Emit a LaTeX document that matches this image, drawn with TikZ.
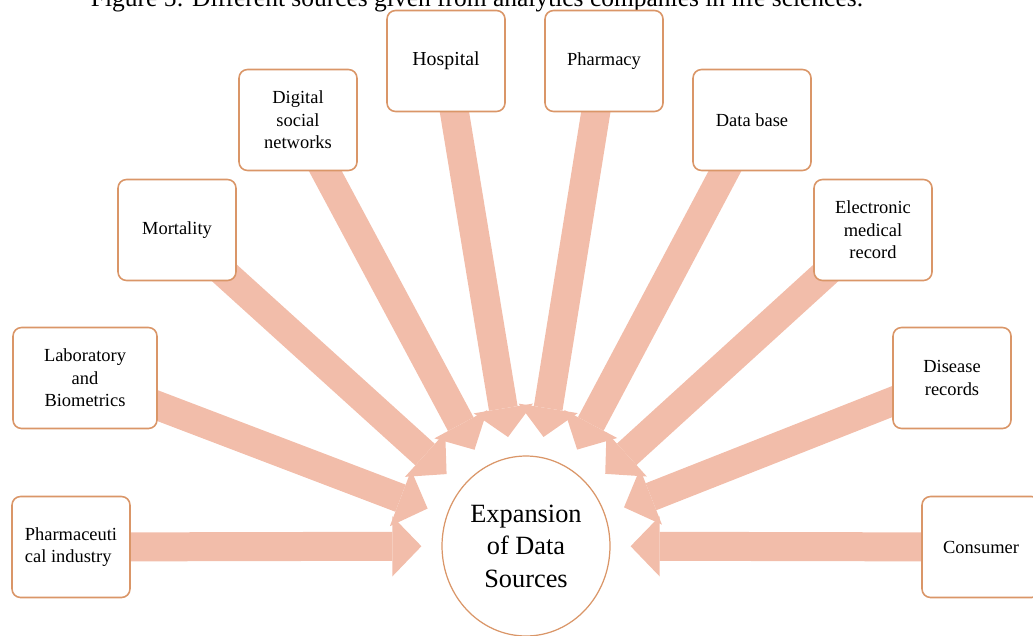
\documentclass[tikz,border=0pt]{standalone}
\usepackage{fontspec}
\setmainfont{Liberation Serif}
\usetikzlibrary{arrows.meta,shapes.geometric}
\pgfdeclarelayer{bg}
\pgfsetlayers{bg,main}
\definecolor{boxline}{RGB}{218,150,104}
\definecolor{flow}{RGB}{242,189,170}

\begin{document}
\begin{tikzpicture}[x=0.02cm,y=-0.02cm,
  source/.style={draw=boxline,line width=0.9pt,rounded corners=0.17cm,fill=white,
    minimum width=2.36cm,minimum height=2.02cm,align=center,
    font=\fontsize{10.5}{12.8}\selectfont},
  hub/.style={ellipse,draw=boxline,line width=0.7pt,fill=white,inner sep=0pt,
    minimum width=3.36cm,minimum height=3.6cm,align=center,
    font=\fontsize{15}{18.5}\selectfont},
  feed/.style={draw=flow,line width=0.58cm,shorten >=0.4cm,
    -{Triangle[width=1.2cm,length=0.58cm,line width=0pt]}}]
\useasboundingbox (0,0) rectangle (1033,635);

\node[anchor=base,font=\fontsize{14.5}{16}\selectfont] (title) at (477,7)
  {Figure 5: Different sources given from analytics companies in life sciences.};

\node[hub] (hub) at (526,546) {Expansion\\of Data\\Sources};

\node[source,align=left] (pharma) at (71,547) {Pharmaceuti\\cal industry};
\node[source,minimum width=2.88cm] (lab) at (85,378) {Laboratory\\and\\Biometrics};
\node[source] (mort) at (177,230) {Mortality};
\node[source] (dsn) at (298,120) {Digital\\social\\networks};
\node[source,font=\fontsize{11.3}{13}\selectfont] (hosp) at (446,61) {Hospital};
\node[source] (pharm) at (604,61) {Pharmacy};
\node[source] (db) at (752,120) {Data base};
\node[source] (emr) at (873,230) {Electronic\\medical\\record};
\node[source] (dis) at (952,378) {Disease\\records};
\node[source] (cons) at (981,547) {Consumer};

\begin{pgfonlayer}{bg}
\foreach \src in {pharma,lab,mort,dsn,hosp,pharm,db,emr,dis,cons}
  \draw[feed] (\src.center) -- (hub);
\end{pgfonlayer}
\end{tikzpicture}
\end{document}
